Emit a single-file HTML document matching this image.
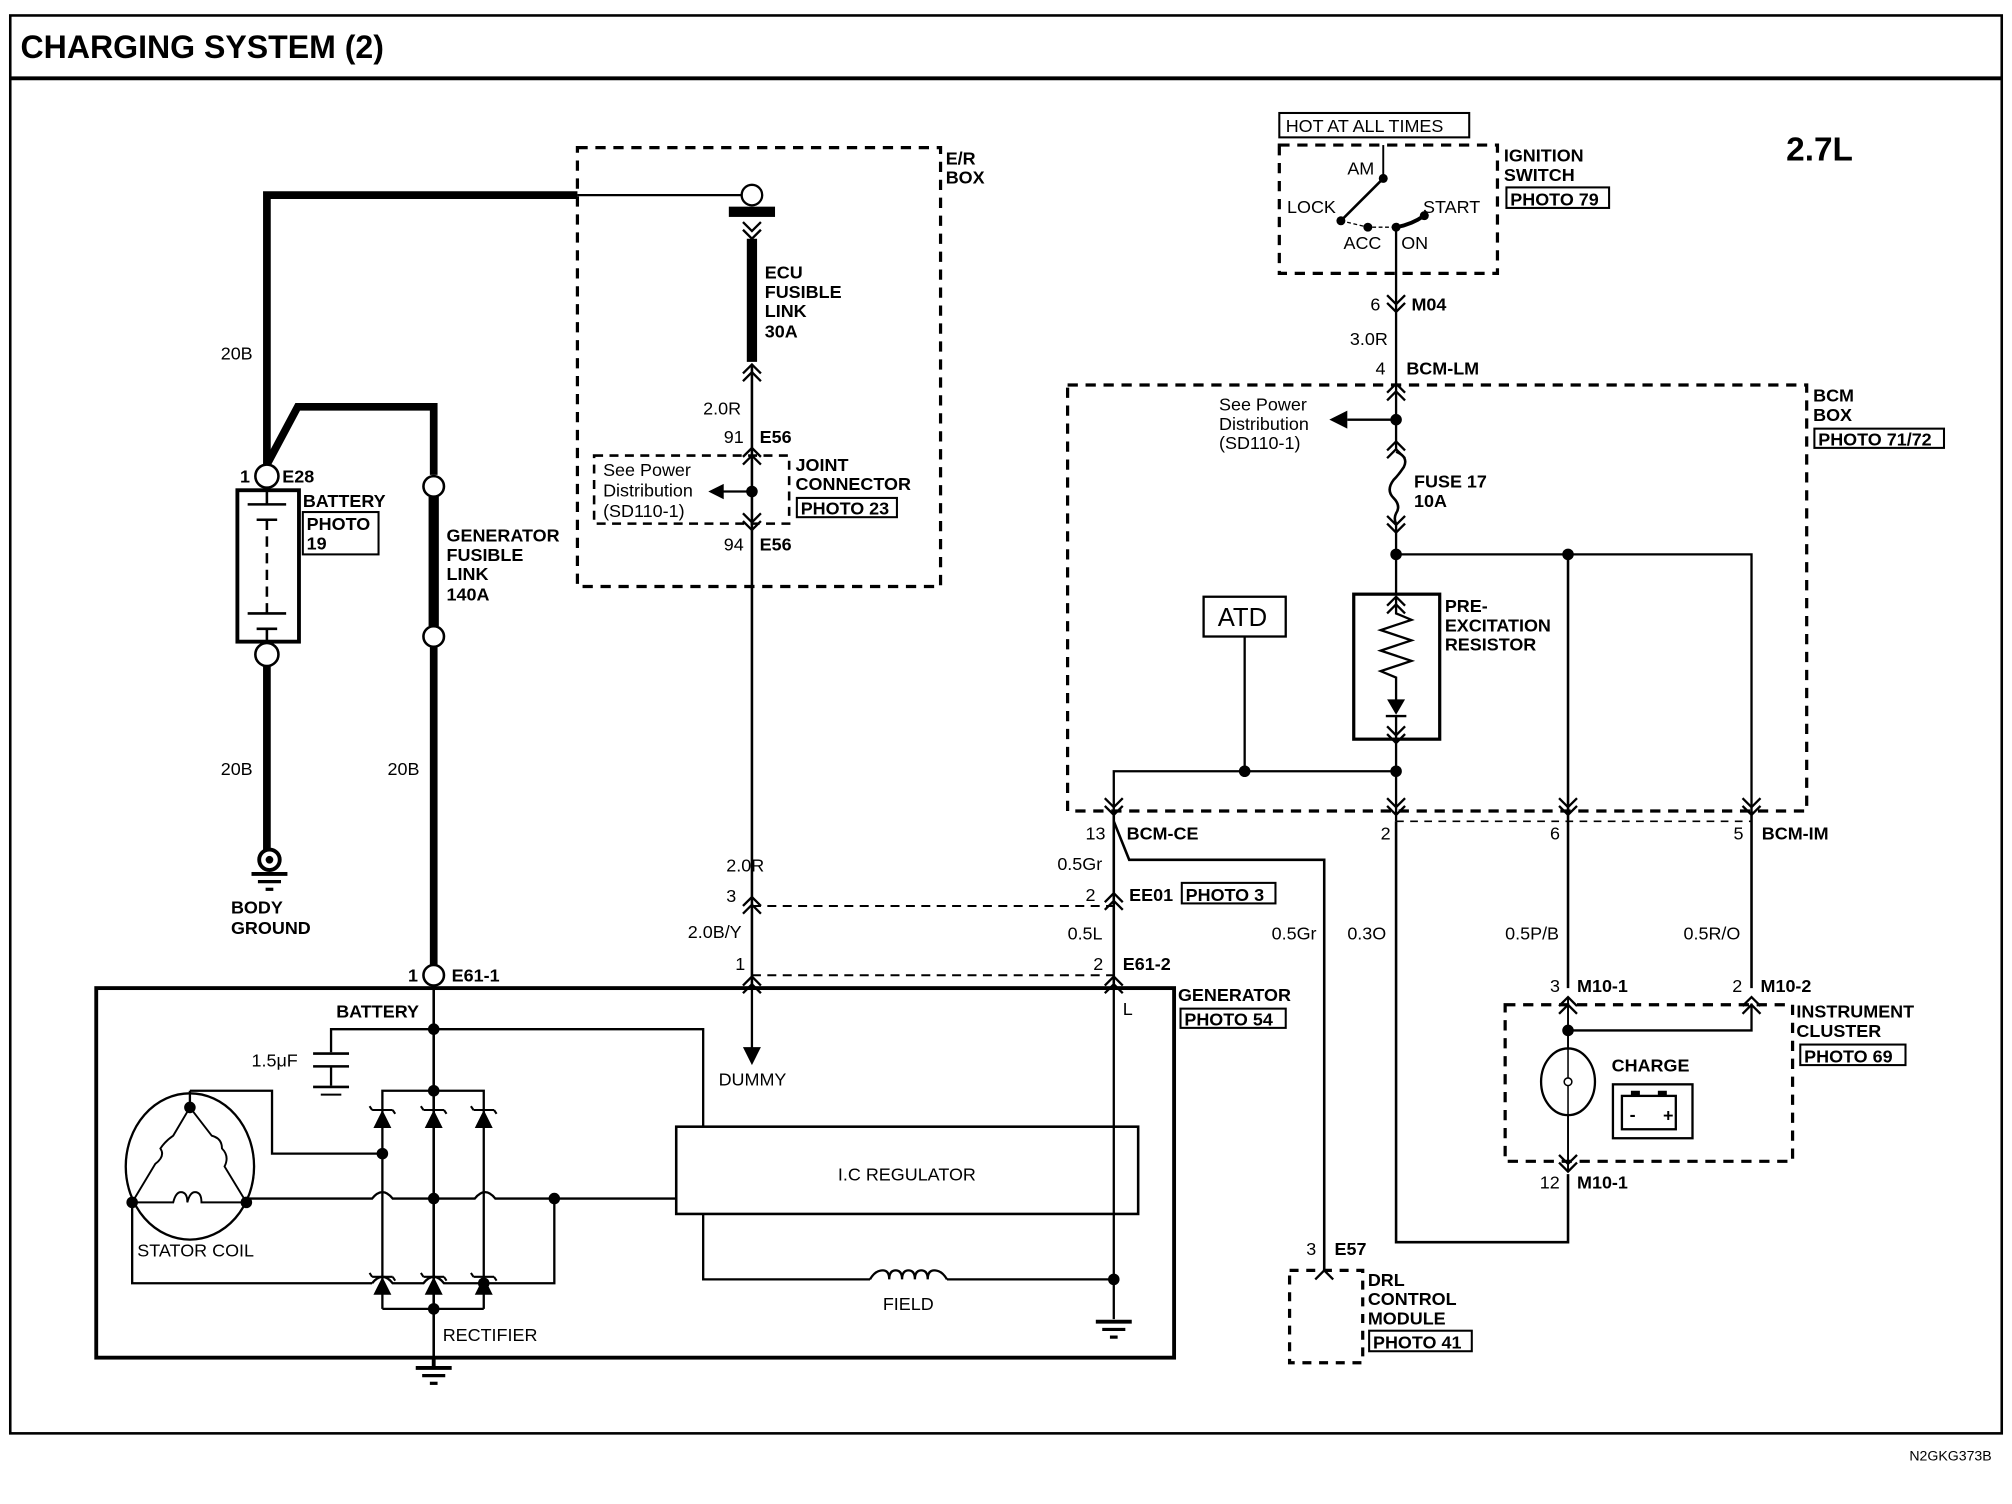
<!DOCTYPE html>
<html><head><meta charset="utf-8"><style>
html,body{margin:0;padding:0;background:#fff;}
svg{display:block;}
text{font-family:"Liberation Sans",Arial,sans-serif;fill:#000;}
.b{font-weight:bold;font-size:14px;}
.n{font-size:14px;}
.pb{fill:none;stroke:#000;stroke-width:1.6;}
</style></head><body>
<svg width="2012" height="1504" viewBox="0 0 1568 1172" xmlns="http://www.w3.org/2000/svg">
<defs>
<g id="dn"><polyline points="-7,-6 0,1 7,-6" fill="none" stroke="#000" stroke-width="1.8"/><polyline points="-7,-12 0,-5 7,-12" fill="none" stroke="#000" stroke-width="1.8"/></g>
<g id="up"><polyline points="-7,6 0,-1 7,6" fill="none" stroke="#000" stroke-width="1.8"/><polyline points="-7,12 0,5 7,12" fill="none" stroke="#000" stroke-width="1.8"/></g>
<g id="gnd"><line x1="-14" y1="0" x2="14" y2="0" stroke="#000" stroke-width="3"/><line x1="-9" y1="6" x2="9" y2="6" stroke="#000" stroke-width="2.5"/><line x1="-3" y1="12" x2="3" y2="12" stroke="#000" stroke-width="2.5"/></g>
<g id="dio"><polygon points="-7,7 7,7 0,-7" fill="#000"/><path d="M-8,-7 L8,-7 M-8,-7 l-2,-3 M8,-7 l2,3" stroke="#000" stroke-width="1.6" fill="none"/></g>
</defs>
<rect width="1568" height="1172" fill="#fff"/>
<rect x="8" y="12" width="1552" height="1105" fill="none" stroke="#000" stroke-width="2"/>
<line x1="8" y1="61" x2="1560" y2="61" stroke="#000" stroke-width="3"/>
<text x="16" y="45" style="font-weight:bold;font-size:25px">CHARGING SYSTEM (2)</text>
<text x="1392" y="125" style="font-weight:bold;font-size:26px">2.7L</text>
<text x="1488" y="1138" style="font-size:11px">N2GKG373B</text>

<polyline points="208,362 208,152 450,152" fill="none" stroke="#000" stroke-width="6"/>
<line x1="450" y1="152" x2="578" y2="152" stroke="#000" stroke-width="1.8"/>
<circle cx="586" cy="152" r="8" fill="#fff" stroke="#000" stroke-width="1.8"/>
<rect x="568" y="161" width="36" height="8" fill="#000"/>
<use href="#dn" x="586" y="185"/>
<line x1="586" y1="186" x2="586" y2="282" stroke="#000" stroke-width="8"/>
<use href="#up" x="586" y="285"/>
<line x1="586" y1="285" x2="586" y2="770" stroke="#000" stroke-width="2"/>
<text x="596" y="217" class="b">ECU</text><text x="596" y="232" class="b">FUSIBLE</text><text x="596" y="247" class="b">LINK</text><text x="596" y="263" class="b">30A</text>
<text x="548" y="323" class="n">2.0R</text>
<text x="564" y="345" class="n">91</text><text x="592" y="345" class="b">E56</text>
<use href="#up" x="586" y="350"/>
<circle cx="586" cy="383" r="4.5" fill="#000"/>
<line x1="586" y1="383" x2="562" y2="383" stroke="#000" stroke-width="1.8"/>
<polygon points="552,383 564,377 564,389" fill="#000"/>
<use href="#dn" x="586" y="412"/>
<text x="564" y="429" class="n">94</text><text x="592" y="429" class="b">E56</text>
<rect x="463" y="355" width="152" height="53" fill="none" stroke="#000" stroke-width="2" stroke-dasharray="7,5"/>
<text x="470" y="371" class="n">See Power</text><text x="470" y="387" class="n">Distribution</text><text x="470" y="403" class="n">(SD110-1)</text>
<text x="620" y="367" class="b">JOINT</text><text x="620" y="382" class="b">CONNECTOR</text>
<rect x="621" y="388" width="78" height="15" class="pb"/><text x="624" y="401" class="b">PHOTO 23</text>
<rect x="450" y="115" width="283" height="342" fill="none" stroke="#000" stroke-width="2.5" stroke-dasharray="8,6"/>
<text x="737" y="128" class="b">E/R</text><text x="737" y="143" class="b">BOX</text>

<text x="172" y="280" class="n">20B</text>
<polyline points="208,362 232,317 338,317 338,370" fill="none" stroke="#000" stroke-width="6"/>
<circle cx="208" cy="371" r="9" fill="#fff" stroke="#000" stroke-width="2"/>
<text x="187" y="376" class="b">1</text><text x="220" y="376" class="b">E28</text>
<rect x="185" y="382" width="48" height="118" fill="#fff" stroke="#000" stroke-width="3"/>
<line x1="208" y1="382" x2="208" y2="393" stroke="#000" stroke-width="2"/>
<line x1="193" y1="393" x2="223" y2="393" stroke="#000" stroke-width="2"/>
<line x1="200" y1="405" x2="216" y2="405" stroke="#000" stroke-width="2"/>
<line x1="208" y1="405" x2="208" y2="478" stroke="#000" stroke-width="2" stroke-dasharray="8,5"/>
<line x1="193" y1="478" x2="223" y2="478" stroke="#000" stroke-width="2"/>
<line x1="200" y1="490" x2="216" y2="490" stroke="#000" stroke-width="2"/>
<line x1="208" y1="490" x2="208" y2="500" stroke="#000" stroke-width="2"/>
<circle cx="208" cy="510" r="9" fill="#fff" stroke="#000" stroke-width="2"/>
<text x="236" y="395" class="b">BATTERY</text>
<rect x="236" y="399" width="59" height="33" class="pb"/><text x="239" y="413" class="b">PHOTO</text><text x="239" y="428" class="b">19</text>
<line x1="208" y1="519" x2="208" y2="662" stroke="#000" stroke-width="6"/>
<text x="172" y="604" class="n">20B</text>
<circle cx="210" cy="670" r="8" fill="#fff" stroke="#000" stroke-width="3"/><circle cx="210" cy="670" r="3" fill="#000"/>
<use href="#gnd" x="210" y="681"/>
<text x="180" y="712" class="b">BODY</text><text x="180" y="728" class="b">GROUND</text>

<circle cx="338" cy="379" r="8" fill="#fff" stroke="#000" stroke-width="2"/>
<line x1="338" y1="387" x2="338" y2="488" stroke="#000" stroke-width="8"/>
<circle cx="338" cy="496" r="8" fill="#fff" stroke="#000" stroke-width="2"/>
<line x1="338" y1="504" x2="338" y2="752" stroke="#000" stroke-width="6"/>
<text x="348" y="422" class="b">GENERATOR</text><text x="348" y="437" class="b">FUSIBLE</text><text x="348" y="452" class="b">LINK</text><text x="348" y="468" class="b">140A</text>
<text x="302" y="604" class="n">20B</text>
<circle cx="338" cy="760" r="8" fill="#fff" stroke="#000" stroke-width="2"/>
<text x="318" y="765" class="b">1</text><text x="352" y="765" class="b">E61-1</text>

<rect x="75" y="770" width="840" height="288" fill="none" stroke="#000" stroke-width="3"/>
<text x="918" y="780" class="b">GENERATOR</text>
<rect x="920" y="786" width="82" height="15" class="pb"/><text x="923" y="799" class="b">PHOTO 54</text>
<text x="262" y="793" class="b">BATTERY</text>
<line x1="338" y1="768" x2="338" y2="1058" stroke="#000" stroke-width="2"/>
<circle cx="338" cy="802" r="4.5" fill="#000"/>
<polyline points="338,802 548,802 548,878" fill="none" stroke="#000" stroke-width="1.8"/>
<polyline points="338,802 258,802 258,820" fill="none" stroke="#000" stroke-width="1.8"/>
<line x1="244" y1="821" x2="272" y2="821" stroke="#000" stroke-width="2"/>
<line x1="244" y1="831" x2="272" y2="831" stroke="#000" stroke-width="2"/>
<line x1="258" y1="831" x2="258" y2="846" stroke="#000" stroke-width="1.8"/>
<line x1="244" y1="847" x2="272" y2="847" stroke="#000" stroke-width="2"/>
<line x1="250" y1="853" x2="266" y2="853" stroke="#000" stroke-width="1.5"/>
<text x="196" y="831" class="n">1.5μF</text>
<polyline points="298,1020 298,850 377,850 377,1020" fill="none" stroke="#000" stroke-width="1.8"/>
<line x1="298" y1="1020" x2="377" y2="1020" stroke="#000" stroke-width="1.8"/>
<circle cx="338" cy="850" r="4.5" fill="#000"/>
<circle cx="338" cy="1020" r="4.5" fill="#000"/>
<use href="#dio" x="298" y="872"/><use href="#dio" x="338" y="872"/><use href="#dio" x="377" y="872"/>
<use href="#dio" x="298" y="1002"/><use href="#dio" x="338" y="1002"/><use href="#dio" x="377" y="1002"/>
<circle cx="298" cy="899" r="4.5" fill="#000"/>
<polyline points="298,899 212,899 212,850 148,850" fill="none" stroke="#000" stroke-width="1.8"/>
<ellipse cx="148" cy="909" rx="50" ry="57" fill="none" stroke="#000" stroke-width="1.8"/>
<circle cx="148" cy="863" r="4.5" fill="#000"/><circle cx="103" cy="937" r="4.5" fill="#000"/><circle cx="192" cy="937" r="4.5" fill="#000"/>
<line x1="148" y1="850" x2="148" y2="863" stroke="#000" stroke-width="1.8"/>
<path d="M148,863 L135,885 q-6,4 -10,10 q4,6 -4,12 L103,937 M148,863 L165,885 q8,2 8,10 q6,6 2,14 L192,937 M103,937 L135,937 q2,-8 6,-8 q5,0 5,8 q2,-8 6,-8 q5,0 5,8 L192,937" fill="none" stroke="#000" stroke-width="1.5"/>
<polyline points="103,937 103,1000 290,1000" fill="none" stroke="#000" stroke-width="1.8"/>
<path d="M290,1000 q8,-10 16,0 L330,1000 q8,-10 16,0 L432,1000 L432,934" fill="none" stroke="#000" stroke-width="1.8"/>
<circle cx="377" cy="1000" r="4.5" fill="#000"/>
<path d="M192,934 L290,934 q8,-10 16,0 L370,934 q8,-10 16,0 L527,934" fill="none" stroke="#000" stroke-width="1.8"/>
<circle cx="338" cy="934" r="4.5" fill="#000"/><circle cx="432" cy="934" r="4.5" fill="#000"/>
<text x="107" y="979" class="n">STATOR COIL</text>
<text x="345" y="1045" class="n">RECTIFIER</text>
<line x1="338" y1="1058" x2="338" y2="1066" stroke="#000" stroke-width="3"/>
<use href="#gnd" x="338" y="1066"/>
<rect x="527" y="878" width="360" height="68" fill="#fff" stroke="#000" stroke-width="2"/>
<text x="653" y="920" class="n">I.C REGULATOR</text>
<polyline points="548,946 548,997 678,997" fill="none" stroke="#000" stroke-width="1.8"/>
<path d="M678,997 q4,-7 10,-7 q5,0 5,7 q0,-7 5,-7 q5,0 5,7 q0,-7 5,-7 q5,0 5,7 q0,-7 5,-7 q5,0 5,7 q0,-7 5,-7 q6,0 10,7" fill="none" stroke="#000" stroke-width="1.8"/>
<line x1="738" y1="997" x2="868" y2="997" stroke="#000" stroke-width="1.8"/>
<text x="688" y="1021" class="n">FIELD</text>
<line x1="868" y1="770" x2="868" y2="1028" stroke="#000" stroke-width="1.8"/>
<circle cx="868" cy="997" r="4.5" fill="#000"/>
<use href="#gnd" x="868" y="1030"/>
<text x="875" y="791" class="n">L</text>
<line x1="586" y1="770" x2="586" y2="818" stroke="#000" stroke-width="1.8"/>
<polygon points="579,816 593,816 586,830" fill="#000"/>
<text x="560" y="846" class="n">DUMMY</text>

<text x="566" y="679" class="n">2.0R</text>
<text x="566" y="703" class="n">3</text>
<use href="#up" x="586" y="700"/>
<text x="536" y="731" class="n">2.0B/Y</text>
<text x="573" y="756" class="n">1</text>
<use href="#up" x="586" y="762"/>
<line x1="586" y1="706" x2="868" y2="706" stroke="#000" stroke-width="1.5" stroke-dasharray="7,5"/>
<line x1="586" y1="760" x2="868" y2="760" stroke="#000" stroke-width="1.5" stroke-dasharray="7,5"/>

<rect x="997" y="88" width="148" height="19" class="pb"/><text x="1002" y="103" class="n">HOT AT ALL TIMES</text>
<rect x="997" y="113" width="170" height="100" fill="none" stroke="#000" stroke-width="2.5" stroke-dasharray="8,6"/>
<line x1="1078" y1="113" x2="1078" y2="139" stroke="#000" stroke-width="1.5"/>
<circle cx="1078" cy="139" r="3.5" fill="#000"/>
<line x1="1078" y1="139" x2="1047" y2="170" stroke="#000" stroke-width="2"/>
<circle cx="1045" cy="172" r="3.5" fill="#000"/><circle cx="1066" cy="177" r="3.5" fill="#000"/><circle cx="1088" cy="177" r="3.5" fill="#000"/><circle cx="1110" cy="168" r="3.5" fill="#000"/>
<path d="M1045,172 L1066,177 L1088,177" fill="none" stroke="#000" stroke-width="1" stroke-dasharray="3,2"/>
<path d="M1088,177 Q1100,175 1110,168" fill="none" stroke="#000" stroke-width="3"/>
<text x="1050" y="136" class="n">AM</text><text x="1003" y="166" class="n">LOCK</text><text x="1109" y="166" class="n">START</text><text x="1047" y="194" class="n">ACC</text><text x="1092" y="194" class="n">ON</text>
<text x="1172" y="126" class="b">IGNITION</text><text x="1172" y="141" class="b">SWITCH</text>
<rect x="1174" y="146" width="80" height="16" class="pb"/><text x="1177" y="160" class="b">PHOTO 79</text>
<line x1="1088" y1="177" x2="1088" y2="350" stroke="#000" stroke-width="1.8"/>
<line x1="1088" y1="408" x2="1088" y2="640" stroke="#000" stroke-width="1.8"/>
<use href="#dn" x="1088" y="242"/>
<text x="1068" y="242" class="n">6</text><text x="1100" y="242" class="b">M04</text>
<text x="1052" y="269" class="n">3.0R</text>
<text x="1072" y="292" class="n">4</text><text x="1096" y="292" class="b">BCM-LM</text>
<use href="#up" x="1088" y="300"/>

<rect x="832" y="300" width="576" height="332" fill="none" stroke="#000" stroke-width="2.5" stroke-dasharray="8,6"/>
<text x="1413" y="313" class="b">BCM</text><text x="1413" y="328" class="b">BOX</text>
<rect x="1414" y="334" width="101" height="15" class="pb"/><text x="1417" y="347" class="b">PHOTO 71/72</text>
<circle cx="1088" cy="327" r="4.5" fill="#000"/>
<line x1="1088" y1="327" x2="1050" y2="327" stroke="#000" stroke-width="1.8"/>
<polygon points="1036,327 1050,320 1050,334" fill="#000"/>
<text x="950" y="320" class="n">See Power</text><text x="950" y="335" class="n">Distribution</text><text x="950" y="350" class="n">(SD110-1)</text>
<use href="#up" x="1088" y="345"/>
<path d="M1088,352 q10,4 6,12 q-4,6 -8,10 q-6,8 0,14 q6,6 2,12 q-2,4 0,8" fill="none" stroke="#000" stroke-width="2"/>
<use href="#dn" x="1088" y="414"/>
<text x="1102" y="380" class="b">FUSE 17</text><text x="1102" y="395" class="b">10A</text>
<circle cx="1088" cy="432" r="4.5" fill="#000"/>
<polyline points="1088,432 1365,432 1365,632" fill="none" stroke="#000" stroke-width="1.8"/>
<circle cx="1222" cy="432" r="4.5" fill="#000"/>
<line x1="1222" y1="432" x2="1222" y2="770" stroke="#000" stroke-width="2"/>
<rect x="1055" y="463" width="67" height="113" fill="#fff" stroke="#000" stroke-width="2.5"/>
<use href="#up" x="1088" y="466"/>
<polyline points="1088,466 1088,478 1100,483 1076,491 1100,499 1076,507 1100,515 1076,523 1088,528 1088,548" fill="none" stroke="#000" stroke-width="1.8"/>
<polygon points="1081,545 1095,545 1088,557" fill="#000"/><line x1="1080" y1="558" x2="1096" y2="558" stroke="#000" stroke-width="1.8"/>
<line x1="1088" y1="558" x2="1088" y2="576" stroke="#000" stroke-width="1.8"/>
<use href="#dn" x="1088" y="578"/>
<text x="1126" y="477" class="b">PRE-</text><text x="1126" y="492" class="b">EXCITATION</text><text x="1126" y="507" class="b">RESISTOR</text>
<rect x="938" y="465" width="64" height="31" fill="#fff" stroke="#000" stroke-width="1.8"/>
<text x="949" y="488" style="font-size:20px">ATD</text>
<line x1="970" y1="496" x2="970" y2="601" stroke="#000" stroke-width="1.8"/>
<polyline points="868,632 868,601 1088,601" fill="none" stroke="#000" stroke-width="1.8"/>
<circle cx="970" cy="601" r="4.5" fill="#000"/><circle cx="1088" cy="601" r="4.5" fill="#000"/>
<use href="#dn" x="868" y="634"/><use href="#dn" x="1088" y="634"/><use href="#dn" x="1222" y="634"/><use href="#dn" x="1365" y="634"/>
<line x1="1088" y1="640" x2="1365" y2="640" stroke="#000" stroke-width="1.3" stroke-dasharray="6,5"/>
<text x="846" y="654" class="n">13</text><text x="878" y="654" class="b">BCM-CE</text>
<text x="1076" y="654" class="n">2</text><text x="1208" y="654" class="n">6</text><text x="1351" y="654" class="n">5</text><text x="1373" y="654" class="b">BCM-IM</text>

<line x1="868" y1="632" x2="868" y2="770" stroke="#000" stroke-width="2"/>
<polyline points="868,640 880,670 1032,670 1032,990" fill="none" stroke="#000" stroke-width="2"/>
<text x="824" y="678" class="n">0.5Gr</text>
<text x="846" y="702" class="n">2</text>
<use href="#up" x="868" y="697"/>
<text x="880" y="702" class="b">EE01</text>
<rect x="921" y="688" width="73" height="16" class="pb"/><text x="924" y="702" class="b">PHOTO 3</text>
<text x="832" y="732" class="n">0.5L</text>
<text x="852" y="756" class="n">2</text><text x="875" y="756" class="b">E61-2</text>
<use href="#up" x="868" y="762"/>
<text x="991" y="732" class="n">0.5Gr</text>
<text x="1050" y="732" class="n">0.3O</text>
<text x="1173" y="732" class="n">0.5P/B</text>
<text x="1312" y="732" class="n">0.5R/O</text>
<polyline points="1088,640 1088,968 1222,968 1222,915" fill="none" stroke="#000" stroke-width="2"/>
<line x1="1365" y1="632" x2="1365" y2="770" stroke="#000" stroke-width="2"/>
<text x="1208" y="773" class="n">3</text><text x="1229" y="773" class="b">M10-1</text>
<text x="1350" y="773" class="n">2</text><text x="1372" y="773" class="b">M10-2</text>
<use href="#up" x="1222" y="778"/><use href="#up" x="1365" y="778"/>
<rect x="1173" y="783" width="224" height="122" fill="none" stroke="#000" stroke-width="2.5" stroke-dasharray="8,6"/>
<circle cx="1222" cy="803" r="4.5" fill="#000"/>
<polyline points="1222,803 1365,803 1365,782" fill="none" stroke="#000" stroke-width="1.8"/>
<line x1="1222" y1="778" x2="1222" y2="912" stroke="#000" stroke-width="1.5"/>
<ellipse cx="1222" cy="843" rx="21" ry="26" fill="#fff" stroke="#000" stroke-width="1.8"/>
<line x1="1222" y1="817" x2="1222" y2="869" stroke="#000" stroke-width="1.2"/>
<circle cx="1222" cy="843" r="3" fill="#fff" stroke="#000" stroke-width="1.2"/>
<use href="#dn" x="1222" y="912"/>
<text x="1256" y="835" class="b">CHARGE</text>
<rect x="1257" y="845" width="62" height="42" fill="none" stroke="#000" stroke-width="1.8"/>
<rect x="1264" y="854" width="42" height="26" fill="none" stroke="#000" stroke-width="1.8"/>
<rect x="1271" y="850" width="7" height="4" fill="#000"/><rect x="1292" y="850" width="7" height="4" fill="#000"/>
<text x="1270" y="873" class="b">-</text><text x="1296" y="874" class="b">+</text>
<text x="1400" y="793" class="b">INSTRUMENT</text><text x="1400" y="808" class="b">CLUSTER</text>
<rect x="1403" y="814" width="82" height="16" class="pb"/><text x="1406" y="828" class="b">PHOTO 69</text>
<text x="1200" y="926" class="n">12</text><text x="1229" y="926" class="b">M10-1</text>
<text x="1018" y="978" class="n">3</text><text x="1040" y="978" class="b">E57</text>
<polyline points="1025,997 1032,990 1039,997" fill="none" stroke="#000" stroke-width="1.8"/>
<rect x="1005" y="990" width="57" height="72" fill="none" stroke="#000" stroke-width="2.5" stroke-dasharray="7,6"/>
<text x="1066" y="1002" class="b">DRL</text><text x="1066" y="1017" class="b">CONTROL</text><text x="1066" y="1032" class="b">MODULE</text>
<rect x="1067" y="1037" width="80" height="16" class="pb"/><text x="1070" y="1051" class="b">PHOTO 41</text>
</svg>
</body></html>
